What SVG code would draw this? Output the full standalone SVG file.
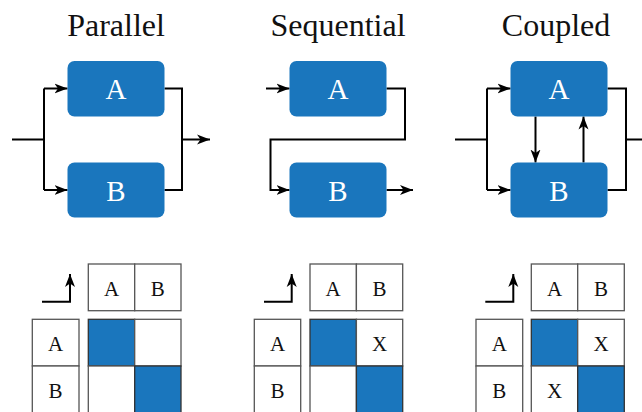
<svg xmlns="http://www.w3.org/2000/svg" width="642" height="412" viewBox="0 0 642 412">
<defs>
<marker id="ah" markerUnits="userSpaceOnUse" markerWidth="14" markerHeight="12" refX="13" refY="6" orient="auto">
<path d="M0,1 L13,6 L0,11 L3.5,6 Z" fill="#000"/>
</marker>
</defs>
<style>
text{font-family:'Liberation Serif','Times New Roman',serif}
.title{font-size:32px;fill:#111;text-anchor:middle}
.box{fill:#1a76bd}
.bl{font-size:29px;fill:#fff;text-anchor:middle}
.ln{fill:none;stroke:#000;stroke-width:2}
.ar{fill:none;stroke:#000;stroke-width:2;marker-end:url(#ah)}
.cell{fill:#fff;stroke:#555;stroke-width:1.3}
.fill{fill:#1a76bd;stroke:#333;stroke-width:1.3}
.ml{font-size:21px;fill:#111;text-anchor:middle}
</style>
<rect width="642" height="412" fill="#fff"/>

<g id="titles">
<text class="title" x="116" y="36">Parallel</text>
<text class="title" x="338" y="36">Sequential</text>
<text class="title" x="556" y="36">Coupled</text>
</g>

<g id="connectors">
<path class="ln" d="M12,139.5 H44 M44,88.5 V190 M164.5,88.5 H182 V190 H164.5"/>
<path class="ar" d="M44,88.5 H67.5"/>
<path class="ar" d="M44,190 H67.5"/>
<path class="ar" d="M182,139.5 H210"/>
<path class="ar" d="M266,88.5 H289.5"/>
<path class="ar" d="M386.5,88.5 H405 V139.5 H270.5 V190 H289.5"/>
<path class="ar" d="M386.5,190 H413"/>
<path class="ln" d="M455,139.5 H487 M487,88.5 V190 M607.5,88.5 H626 V190 H607.5 M626,139.5 H650"/>
<path class="ar" d="M487,88.5 H510.5"/>
<path class="ar" d="M487,190 H510.5"/>
<path class="ar" d="M535.5,116.5 V162.5"/>
<path class="ar" d="M583.5,162.5 V116.5"/>
<path class="ar" d="M42,301.7 H70 V274"/>
<path class="ar" d="M264,301.7 H291.7 V274"/>
<path class="ar" d="M485.3,301.7 H513.3 V274"/>
</g>

<g id="parallel-A"><rect class="box" x="67.5" y="61" width="97" height="55.5" rx="7"/><text class="bl" x="116" y="99">A</text></g>
<g id="parallel-B"><rect class="box" x="67.5" y="162.5" width="97" height="55" rx="7"/><text class="bl" x="116" y="200.5">B</text></g>
<g id="sequential-A"><rect class="box" x="289.5" y="61" width="97" height="55.5" rx="7"/><text class="bl" x="338" y="99">A</text></g>
<g id="sequential-B"><rect class="box" x="289.5" y="162.5" width="97" height="55" rx="7"/><text class="bl" x="338" y="200.5">B</text></g>
<g id="coupled-A"><rect class="box" x="510.5" y="61" width="97" height="55.5" rx="7"/><text class="bl" x="559" y="99">A</text></g>
<g id="coupled-B"><rect class="box" x="510.5" y="162.5" width="97" height="55" rx="7"/><text class="bl" x="559" y="200.5">B</text></g>

<g id="matrix-parallel">
<rect class="cell" x="88.3" y="264" width="46.4" height="46.7"/>
<rect class="cell" x="134.7" y="264" width="46.3" height="46.7"/>
<rect class="cell" x="32.3" y="319.3" width="46.7" height="46.7"/>
<rect class="cell" x="32.3" y="366" width="46.7" height="46.7"/>
<rect class="fill" x="88.3" y="319.3" width="46.4" height="46.7"/>
<rect class="cell" x="134.7" y="319.3" width="46.3" height="46.7"/>
<rect class="cell" x="88.3" y="366" width="46.4" height="46.7"/>
<rect class="fill" x="134.7" y="366" width="46.3" height="46.7"/>
<text class="ml" x="111.5" y="296">A</text><text class="ml" x="157.8" y="296">B</text>
<text class="ml" x="55.6" y="351">A</text><text class="ml" x="55.6" y="397.5">B</text>
</g>

<g id="matrix-sequential">
<rect class="cell" x="310" y="264" width="46.4" height="46.7"/>
<rect class="cell" x="356.4" y="264" width="46.3" height="46.7"/>
<rect class="cell" x="254.3" y="319.3" width="46.4" height="46.7"/>
<rect class="cell" x="254.3" y="366" width="46.4" height="46.7"/>
<rect class="fill" x="310" y="319.3" width="46.4" height="46.7"/>
<rect class="cell" x="356.4" y="319.3" width="46.3" height="46.7"/>
<rect class="cell" x="310" y="366" width="46.4" height="46.7"/>
<rect class="fill" x="356.4" y="366" width="46.3" height="46.7"/>
<text class="ml" x="333.2" y="296">A</text><text class="ml" x="379.5" y="296">B</text>
<text class="ml" x="277.5" y="351">A</text><text class="ml" x="277.5" y="397.5">B</text>
<text class="ml" x="379.5" y="351">X</text>
</g>

<g id="matrix-coupled">
<rect class="cell" x="531.3" y="264" width="46.4" height="46.7"/>
<rect class="cell" x="577.7" y="264" width="46.6" height="46.7"/>
<rect class="cell" x="476" y="319.3" width="46.7" height="46.7"/>
<rect class="cell" x="476" y="366" width="46.7" height="46.7"/>
<rect class="fill" x="531.3" y="319.3" width="46.4" height="46.7"/>
<rect class="cell" x="577.7" y="319.3" width="46.6" height="46.7"/>
<rect class="cell" x="531.3" y="366" width="46.4" height="46.7"/>
<rect class="fill" x="577.7" y="366" width="46.6" height="46.7"/>
<text class="ml" x="554.5" y="296">A</text><text class="ml" x="601" y="296">B</text>
<text class="ml" x="499.3" y="351">A</text><text class="ml" x="499.3" y="397.5">B</text>
<text class="ml" x="601" y="351">X</text><text class="ml" x="554.5" y="397.5">X</text>
</g>
</svg>
